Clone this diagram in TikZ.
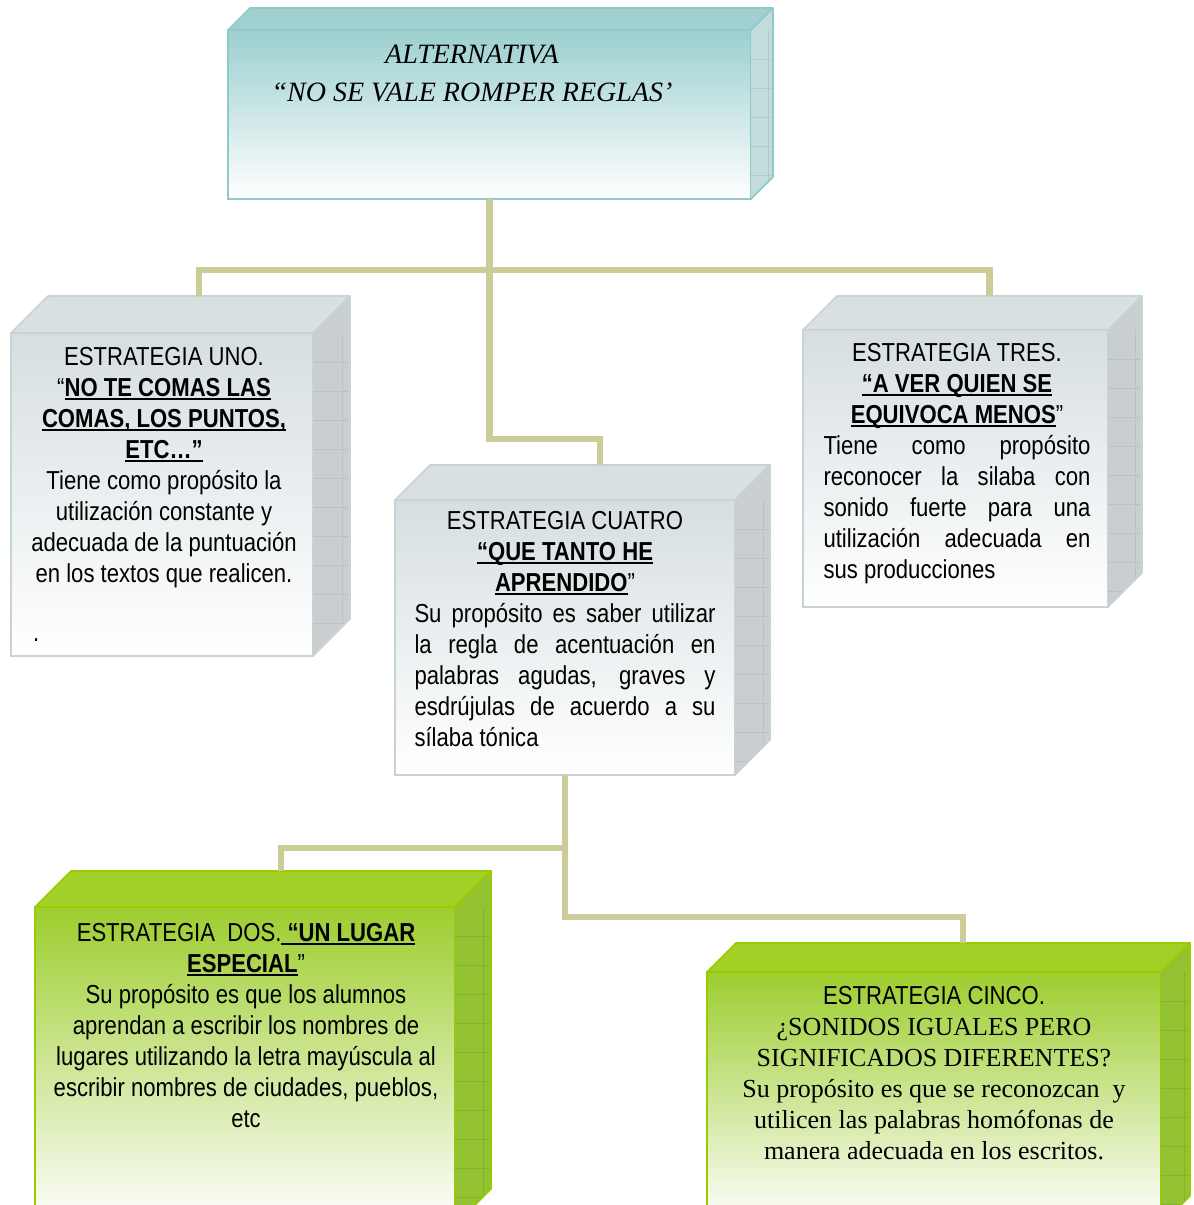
\documentclass[tikz,border=0pt]{standalone}
\usepackage{fontspec}
\setmainfont{Liberation Sans}
\newfontfamily\nar[FakeStretch=0.85]{Liberation Sans}
\newfontfamily\tms{Liberation Serif}
\usetikzlibrary{calc}
\definecolor{grayF}{HTML}{D6DEE1}
\definecolor{grayT}{HTML}{D9E0E2}
\definecolor{grayS}{HTML}{C9CFD1}
\definecolor{grayG}{HTML}{BCC2C4}
\definecolor{grayL}{HTML}{C8D3D6}
\definecolor{tealF}{HTML}{9CCFCF}
\definecolor{tealT}{HTML}{A0D0D0}
\definecolor{tealS}{HTML}{C2DCDC}
\definecolor{tealG}{HTML}{ADCDCD}
\definecolor{tealL}{HTML}{8ECACA}
\definecolor{greenF}{HTML}{9DCD2E}
\definecolor{greenT}{HTML}{A2D026}
\definecolor{greenS}{HTML}{93C232}
\definecolor{greenG}{HTML}{84B426}
\definecolor{greenL}{HTML}{99CC00}
\definecolor{connC}{HTML}{CCCC99}
\newcommand\ulx[1]{\setbox0\hbox{#1}\rlap{\rule[-3.5pt]{\wd0}{1.3pt}}\box0}
\newcommand\cubebox[7]{%
  \node[draw=#7L, line width=1.6pt, outer sep=0pt, inner sep=0pt, top color=#7F, bottom color=white,
        minimum width=#4pt, minimum height=#5pt] (#1) at (#2,#3) {};
  \filldraw[fill=#7T, draw=#7L, line width=1.6pt, line join=round]
    (#1.north west) -- ++(#6,-#6) -- ($(#1.north east)+(#6,-#6)$) -- (#1.north east) -- cycle;
  \begin{scope}
    \clip (#1.north east) -- ++(#6,-#6) -- ($(#1.south east)+(#6,-#6)$) -- (#1.south east) -- cycle;
    \fill[#7S] ($(#1.north east)+(0,-#6)$) rectangle ($(#1.south east)+(#6,0)$);
    \foreach \k in {1,...,12} \draw[#7G, line width=0.7pt] ($(#1.north east)+(0,\k*29)$) -- ++(#6,0);
    \draw[#7G, line width=0.7pt] ($(#1.north east)+(#6*0.8,0)$) -- ($(#1.south east)+(#6*0.8,0)$);
  \end{scope}
  \draw[#7L, line width=1.6pt, line join=round]
    (#1.north east) -- ++(#6,-#6) -- ($(#1.south east)+(#6,-#6)$) -- (#1.south east);
  \coordinate (#1-top) at ($(#1.north)+(#6,-#6)$);
}
\tikzset{
  txt/.style={inner sep=0pt, outer sep=0pt, text=black, font=\nar\fontsize{26}{31}\selectfont},
  ttl/.style={inner sep=0pt, outer sep=0pt, text=black, font=\tms\itshape\fontsize{28}{38}\selectfont},
  conn/.style={draw=connC, line width=6.5pt}
}
\begin{document}
\begin{tikzpicture}[x=1pt,y=-1pt]
\clip (0,0) rectangle (1194,1205);
\fill[white] (0,0) rectangle (1194,1205);

\cubebox{alt}{489.5}{114.5}{523}{169}{22}{teal}
\cubebox{uno}{162}{494.5}{302}{323}{37}{gray}
\cubebox{cuatro}{565}{637.5}{340}{275}{35}{gray}
\cubebox{tres}{955.5}{468.5}{305}{277}{34}{gray}
\cubebox{dos}{245}{1066}{420}{318}{36}{green}
\cubebox{cinco}{934}{1098.5}{454}{253}{29}{green}

% connectors
\coordinate (bus1) at (489.5,270);
\coordinate (bus2) at (565,848);
\draw[conn] (alt.south) -- (bus1);
\draw[conn] (uno-top) |- (bus1) -| (tres-top);
\draw[conn] (bus1) |- ([yshift=26pt]cuatro-top) -- (cuatro-top);
\draw[conn] (cuatro.south) -- (bus2) -| (dos-top);
\draw[conn] (bus2) |- ([yshift=26pt]cinco-top) -- (cinco-top);

% texts
\node[ttl, anchor=north, align=center] (alt-t) at (472,45.5)
  {ALTERNATIVA\\“NO SE VALE ROMPER REGLAS’};

\node[txt, anchor=north, align=center] (uno-t) at (164,347)
  {ESTRATEGIA UNO.\\
   “\textbf{\ulx{NO TE COMAS LAS}}\\
   \textbf{\ulx{COMAS, LOS PUNTOS,}}\\
   \textbf{\ulx{ETC…”}}\\
   Tiene como propósito la\\
   utilización constante y\\
   adecuada de la puntuación\\
   en los textos que realicen.};
\node[txt, anchor=base west] (uno-dot) at (33,641) {.};

\node[txt, anchor=north, align=center] (cuatro-t) at (565,511)
  {ESTRATEGIA CUATRO\\
   \textbf{\ulx{“QUE TANTO HE}}\\
   \textbf{\ulx{APRENDIDO}}”\\
   \makebox[301pt][s]{Su propósito es saber utilizar}\\
   \makebox[301pt][s]{la regla de acentuación en}\\
   \makebox[301pt][s]{palabras agudas, graves y}\\
   \makebox[301pt][s]{esdrújulas de acuerdo a su}\\
   \makebox[301pt][l]{sílaba tónica}};

\node[txt, anchor=north, align=center] (tres-t) at (957,343)
  {ESTRATEGIA TRES.\\
   \textbf{\ulx{“A VER QUIEN SE}}\\
   \textbf{\ulx{EQUIVOCA MENOS}}”\\
   \makebox[267pt][s]{Tiene como propósito}\\
   \makebox[267pt][s]{reconocer la silaba con}\\
   \makebox[267pt][s]{sonido fuerte para una}\\
   \makebox[267pt][s]{utilización adecuada en}\\
   \makebox[267pt][l]{sus producciones}};

\node[txt, anchor=north, align=center] (dos-t) at (246,923)
  {ESTRATEGIA\ \ DOS.\textbf{\ulx{\ “UN LUGAR}}\\
   \textbf{\ulx{ESPECIAL}}”\\
   Su propósito es que los alumnos\\
   aprendan a escribir los nombres de\\
   lugares utilizando la letra mayúscula al\\
   escribir nombres de ciudades, pueblos,\\
   etc};

\node[txt, anchor=north, align=center] (cinco-t) at (934,986)
  {ESTRATEGIA CINCO.\\
   \tms ¿SONIDOS IGUALES PERO\\
   \tms SIGNIFICADOS DIFERENTES?\\
   \tms Su propósito es que se reconozcan\ \ y\\
   \tms utilicen las palabras homófonas de\\
   \tms manera adecuada en los escritos.};
\end{tikzpicture}
\end{document}
